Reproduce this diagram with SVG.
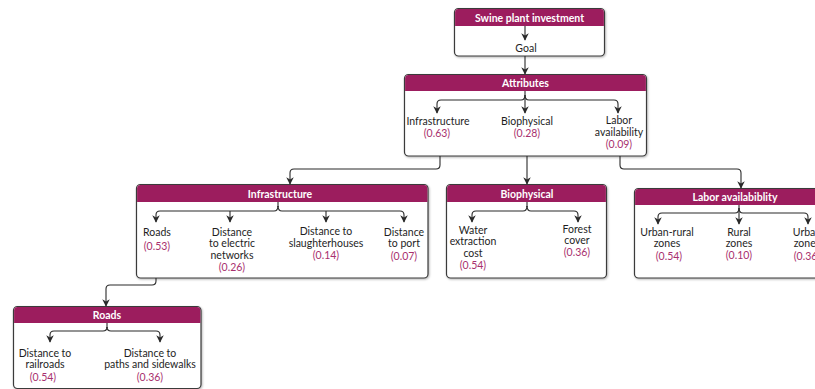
<svg xmlns="http://www.w3.org/2000/svg" width="815" height="389" viewBox="0 0 815 389">
<style>
.box{fill:#fff;stroke:#3a3a3a;stroke-width:1.2}
.hd{fill:#9c1d5e}
.ht{font-family:"Lato","Liberation Sans",sans-serif;font-weight:bold;font-size:10.5px;fill:#fff;text-anchor:middle}
.t{font-family:"Lato","Liberation Sans",sans-serif;font-size:10.5px;fill:#1e1e1e;text-anchor:middle}
.n{fill:#a8306e}
.c{fill:none;stroke:#2a2a2a;stroke-width:1.1}
</style>
<defs>
<marker id="ah" viewBox="0 0 10 10" refX="9" refY="5" markerWidth="7.5" markerHeight="7.5" markerUnits="userSpaceOnUse" orient="auto">
<path d="M0,0 L10,5 L0,10 L3,5 z" fill="#2a2a2a"/>
</marker>
<filter id="sh" x="-5%" y="-5%" width="110%" height="115%"><feDropShadow dx="0.8" dy="1" stdDeviation="0.8" flood-color="#000" flood-opacity="0.3"/></filter>
</defs>

<g id="swine">
<rect class="box" x="454.5" y="8.5" width="150" height="47.5" rx="4" filter="url(#sh)"/>
<path class="hd" d="M455.1,26 V12.5 Q455.1,9.1 458.5,9.1 H600.5 Q603.9,9.1 603.9,12.5 V26 z"/>
<text class="ht" x="529.5" y="21.5">Swine plant investment</text>
<path class="c" d="M525,26 V40" marker-end="url(#ah)"/>
<text class="t" x="526" y="51.5">Goal</text>
</g>

<g id="attributes">
<rect class="box" x="404.5" y="74.5" width="242" height="81.5" rx="4" filter="url(#sh)"/>
<path class="hd" d="M405.1,91 V78.5 Q405.1,75.1 408.5,75.1 H642.5 Q645.9,75.1 645.9,78.5 V91 z"/>
<text class="ht" x="525.5" y="87">Attributes</text>
<path class="c" d="M525,91 V113" marker-end="url(#ah)"/>
<path class="c" d="M525,95 Q525,100 521,100 H441 Q437,100 437,104 V113" marker-end="url(#ah)"/>
<path class="c" d="M525,95 Q525,100 529,100 H614 Q618,100 618,104 V113" marker-end="url(#ah)"/>
<text class="t" x="438" y="124.5">Infrastructure</text>
<text class="t n" x="437" y="136.5">(0.63)</text>
<text class="t" x="527" y="124.5">Biophysical</text>
<text class="t n" x="527" y="136.5">(0.28)</text>
<text class="t" x="619" y="124">Labor</text>
<text class="t" x="619" y="135.5">availability</text>
<text class="t n" x="619" y="147.5">(0.09)</text>
</g>

<g id="infrastructure">
<rect class="box" x="136.5" y="184.5" width="291.5" height="93.5" rx="4" filter="url(#sh)"/>
<path class="hd" d="M137.1,202 V188.5 Q137.1,185.1 140.5,185.1 H424 Q427.4,185.1 427.4,188.5 V202 z"/>
<text class="ht" x="280" y="197.5">Infrastructure</text>
<path class="c" d="M278,202 V207"/>
<path class="c" d="M278,206 Q278,211 274,211 H160 Q156,211 156,215 V222" marker-end="url(#ah)"/>
<path class="c" d="M230,211 V222" marker-end="url(#ah)"/>
<path class="c" d="M278,206 Q278,211 282,211 H400 Q404,211 404,215 V222" marker-end="url(#ah)"/>
<path class="c" d="M326,211 V222" marker-end="url(#ah)"/>
<text class="t" x="157" y="235.5">Roads</text>
<text class="t n" x="157" y="249.5">(0.53)</text>
<text class="t" x="232" y="235.5">Distance</text>
<text class="t" x="232" y="247">to electric</text>
<text class="t" x="232" y="258.5">networks</text>
<text class="t n" x="232" y="270.5">(0.26)</text>
<text class="t" x="326" y="235">Distance to</text>
<text class="t" x="326" y="246.5">slaughterhouses</text>
<text class="t n" x="326" y="258.5">(0.14)</text>
<text class="t" x="404" y="235.5">Distance</text>
<text class="t" x="404" y="247">to port</text>
<text class="t n" x="404" y="259.5">(0.07)</text>
</g>

<g id="biophysical">
<rect class="box" x="446.5" y="184.5" width="160" height="93.5" rx="4" filter="url(#sh)"/>
<path class="hd" d="M447.1,202 V188.5 Q447.1,185.1 450.5,185.1 H602.5 Q605.9,185.1 605.9,188.5 V202 z"/>
<text class="ht" x="527" y="197.5">Biophysical</text>
<path class="c" d="M527,202 V207"/>
<path class="c" d="M527,206 Q527,211 523,211 H476 Q472,211 472,215 V222" marker-end="url(#ah)"/>
<path class="c" d="M527,206 Q527,211 531,211 H574 Q578,211 578,215 V222" marker-end="url(#ah)"/>
<text class="t" x="473" y="233.5">Water</text>
<text class="t" x="473" y="245">extraction</text>
<text class="t" x="473" y="257">cost</text>
<text class="t n" x="473" y="269">(0.54)</text>
<text class="t" x="577" y="232.5">Forest</text>
<text class="t" x="577" y="244">cover</text>
<text class="t n" x="577" y="256">(0.36)</text>
</g>

<g id="labor">
<rect class="box" x="634.5" y="188.5" width="215" height="89.5" rx="4" filter="url(#sh)"/>
<path class="hd" d="M635.1,205 V192.5 Q635.1,189.1 638.5,189.1 H849 V205 z"/>
<text class="ht" x="735" y="200.5">Labor availabiblity</text>
<path class="c" d="M739,205 V224" marker-end="url(#ah)"/>
<path class="c" d="M739,208 Q739,213 735,213 H662 Q658,213 658,217 V224" marker-end="url(#ah)"/>
<path class="c" d="M739,208 Q739,213 743,213 H804 Q808,213 808,217 V224" marker-end="url(#ah)"/>
<text class="t" x="667" y="235.5">Urban-rural</text>
<text class="t" x="667" y="247">zones</text>
<text class="t n" x="669" y="259.5">(0.54)</text>
<text class="t" x="739" y="235.5">Rural</text>
<text class="t" x="739" y="247">zones</text>
<text class="t n" x="739" y="259">(0.10)</text>
<text class="t" x="807" y="235.5">Urban</text>
<text class="t" x="807" y="247">zones</text>
<text class="t n" x="807" y="259.5">(0.36)</text>
</g>

<g id="roads">
<rect class="box" x="13.5" y="306.5" width="187.5" height="82" rx="4" filter="url(#sh)"/>
<path class="hd" d="M14.1,323 V310.5 Q14.1,307.1 17.5,307.1 H197 Q200.4,307.1 200.4,310.5 V323 z"/>
<text class="ht" x="107" y="319">Roads</text>
<path class="c" d="M107,323 V328"/>
<path class="c" d="M107,327 Q107,331 103,331 H54 Q50,331 50,335 V342" marker-end="url(#ah)"/>
<path class="c" d="M107,327 Q107,331 111,331 H156 Q160,331 160,335 V342" marker-end="url(#ah)"/>
<text class="t" x="45" y="356.5">Distance to</text>
<text class="t" x="45" y="368">railroads</text>
<text class="t n" x="43" y="380.5">(0.54)</text>
<text class="t" x="150" y="356.5">Distance to</text>
<text class="t" x="150" y="368">paths and sidewalks</text>
<text class="t n" x="150" y="380.5">(0.36)</text>
</g>

<g id="connectors">
<path class="c" d="M525,56 V74" marker-end="url(#ah)"/>
<path class="c" d="M440,156 V165 Q440,169 436,169 H294 Q290,169 290,173 V184" marker-end="url(#ah)"/>
<path class="c" d="M527,156 V184" marker-end="url(#ah)"/>
<path class="c" d="M620,156 V165 Q620,169 624,169 H737 Q741,169 741,173 V188" marker-end="url(#ah)"/>
<path class="c" d="M156,278 V281 Q156,285 152,285 H110 Q106,285 106,289 V306" marker-end="url(#ah)"/>
</g>
</svg>
